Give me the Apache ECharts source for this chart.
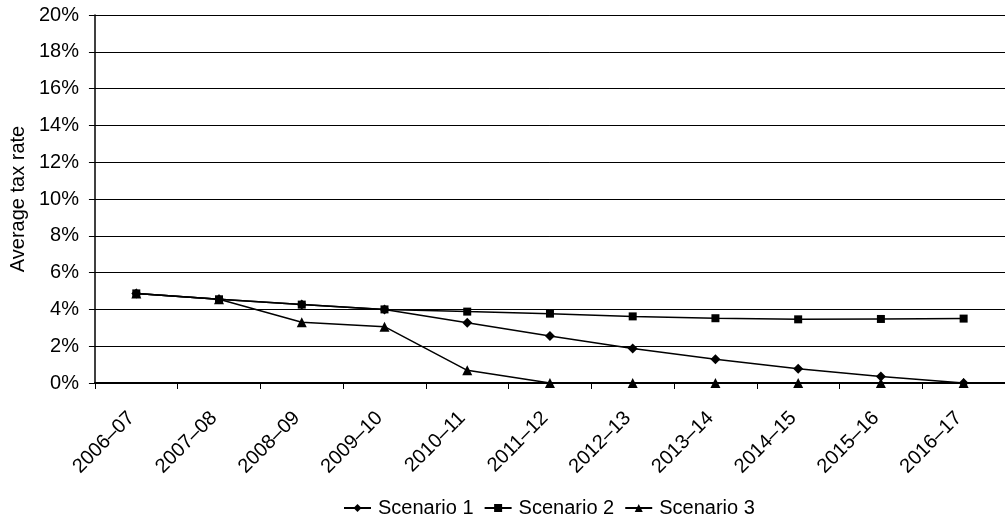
<!DOCTYPE html>
<html>
<head>
<meta charset="utf-8">
<script src="https://cdn.jsdelivr.net/npm/echarts@6/dist/echarts.min.js"></script>
<style>
  html, body { margin: 0; padding: 0; background: #fff; }
  #chart { width: 1005px; height: 521px; }
</style>
</head>
<body>
<div id="chart"></div>
<script>
// Financial years on the horizontal axis
const years = ['2006–07', '2007–08', '2008–09', '2009–10', '2010–11', '2011–12',
               '2012–13', '2013–14', '2014–15', '2015–16', '2016–17'];

// Average tax rate (%) under each scenario
const scenario1 = [4.87, 4.55, 4.26, 4.00, 3.28, 2.55, 1.88, 1.29, 0.78, 0.35, 0.00];
const scenario2 = [4.87, 4.55, 4.26, 4.00, 3.88, 3.77, 3.62, 3.52, 3.46, 3.48, 3.50];
const scenario3 = [4.87, 4.55, 3.30, 3.06, 0.69, 0.00, 0.00, 0.00, 0.00, 0.00, 0.00];

const seriesNames = ['Scenario 1', 'Scenario 2', 'Scenario 3'];

const font = 'Liberation Sans, Arial, sans-serif';
const fontSize = 20;

function lineSeries(name, data, symbol, size) {
  return {
    name: name,
    type: 'line',
    data: data,
    symbol: symbol,
    symbolSize: size,
    showAllSymbol: true,
    lineStyle: { color: '#000', width: 1.5 },
    itemStyle: { color: '#000' },
    emphasis: { disabled: true },
    animation: false
  };
}

const chart = echarts.init(document.getElementById('chart'));
chart.setOption({
  backgroundColor: '#fff',
  animation: false,
  grid: { left: 93, top: 15, width: 917, height: 368, containLabel: false },
  legend: {
    top: 498,
    left: 343,
    padding: 0,
    itemWidth: 27,
    itemHeight: 10,
    itemGap: 10,
    textStyle: { fontFamily: font, fontSize: fontSize, color: '#000', padding: [0, 0, 0, 2] },
    data: seriesNames
  },
  xAxis: {
    type: 'category',
    data: years,
    boundaryGap: true,
    axisLine: { lineStyle: { color: '#000', width: 2 } },
    axisTick: { show: true, length: 6, alignWithLabel: false, lineStyle: { color: '#000' } },
    axisLabel: {
      rotate: 45,
      interval: 0,
      margin: 27,
      padding: [0, 7, 0, 0],
      fontFamily: font,
      fontSize: fontSize,
      color: '#000'
    },
    splitLine: { show: false }
  },
  yAxis: {
    type: 'value',
    min: 0,
    max: 20,
    interval: 2,
    name: 'Average tax rate',
    nameLocation: 'middle',
    nameGap: 61,
    nameTextStyle: { fontFamily: font, fontSize: fontSize, color: '#000' },
    axisLine: { show: true, lineStyle: { color: '#000', width: 1.5 } },
    axisTick: { show: true, length: 6, lineStyle: { color: '#000' } },
    axisLabel: {
      formatter: v => v + '%',
      margin: 16,
      fontFamily: font,
      fontSize: fontSize,
      color: '#000'
    },
    splitLine: { show: true, lineStyle: { color: '#000', width: 1 } }
  },
  series: [
    lineSeries(seriesNames[0], scenario1, 'diamond', 10),
    lineSeries(seriesNames[1], scenario2, 'rect', 8),
    lineSeries(seriesNames[2], scenario3, 'triangle', 10)
  ]
});
</script>
</body>
</html>
